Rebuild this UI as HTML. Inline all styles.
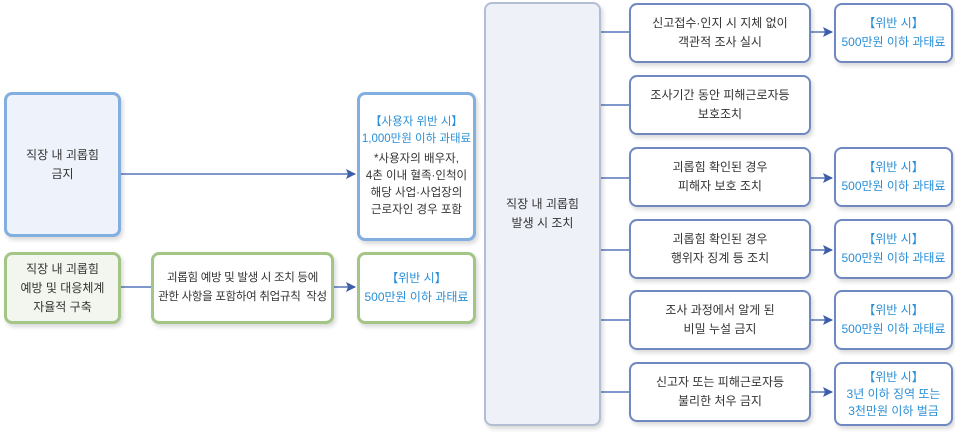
<!DOCTYPE html>
<html><head><meta charset="utf-8"><style>
body{margin:0;width:955px;height:432px;background:#fff;font-family:"Liberation Sans","Noto Sans CJK KR",sans-serif;position:relative;overflow:hidden}
.b{position:absolute;box-sizing:border-box;border-radius:8px;display:flex;align-items:center;justify-content:center;text-align:center;font-size:12px;line-height:19px;color:#333;background:#fff;box-shadow:2px 3px 4px rgba(0,0,0,.15);white-space:nowrap}
.bl{border:3px solid #82aee0}
.gr{border:3px solid #a3c686}
.nv{border:2.5px solid #6f88c2}
.c{color:#2a8fd6;font-weight:bold}
</style></head><body>
<svg width="955" height="432" style="position:absolute;left:0;top:0">
<defs><marker id="a" markerWidth="10" markerHeight="10" refX="9" refY="5" orient="auto" markerUnits="userSpaceOnUse"><path d="M0,0 L10,5 L0,10 L2,5z" fill="#3f5ea8"/></marker></defs>
<g stroke="#5575b8" stroke-width="1.5" fill="none">
<line x1="120" y1="174" x2="355" y2="174" marker-end="url(#a)"/>
<line x1="120" y1="287" x2="152" y2="287"/>
<line x1="333" y1="287" x2="355" y2="287" marker-end="url(#a)"/>
<line x1="600" y1="32" x2="630" y2="32"/>
<line x1="600" y1="105" x2="630" y2="105"/>
<line x1="600" y1="178" x2="630" y2="178"/>
<line x1="600" y1="250" x2="630" y2="250"/>
<line x1="600" y1="320" x2="630" y2="320"/>
<line x1="600" y1="392" x2="630" y2="392"/>
<line x1="810" y1="32" x2="832" y2="32" marker-end="url(#a)"/>
<line x1="810" y1="178" x2="832" y2="178" marker-end="url(#a)"/>
<line x1="810" y1="250" x2="832" y2="250" marker-end="url(#a)"/>
<line x1="810" y1="320" x2="832" y2="320" marker-end="url(#a)"/>
<line x1="810" y1="392" x2="832" y2="392" marker-end="url(#a)"/>
</g></svg>
<div class="b bl" style="left:4px;top:92px;width:117px;height:145px;background:#eef2fa">직장 내 괴롭힘<br>금지</div>
<div class="b gr" style="left:4px;top:252px;width:117px;height:72px;background:#f2f6ee">직장 내 괴롭힘<br>예방 및 대응체계<br>자율적 구축</div>
<div class="b gr" style="left:151px;top:252px;width:183px;height:72px;font-size:11.5px;letter-spacing:-0.3px">괴롭힘 예방 및 발생 시 조치 등에<br>관한 사항을 포함하여 취업규칙&nbsp; 작성</div>
<div class="b bl" style="left:357px;top:92px;width:119px;height:149px;flex-direction:column;font-size:11.5px;line-height:17px"><span class="c" style="font-weight:normal">【사용자 위반 시】<br>1,000만원 이하 과태료</span><span style="margin-top:3px">*사용자의 배우자,<br>4촌 이내 혈족·인척이<br>해당 사업·사업장의<br>근로자인 경우 포함</span></div>
<div class="b gr" style="left:357px;top:252px;width:119px;height:72px"><span class="c" style="font-weight:normal">【위반 시】<br>500만원 이하 과태료</span></div>
<div class="b" style="left:484px;top:2px;width:117px;height:424px;border:2.5px solid #b3bdd4;background:#eef1f8">직장 내 괴롭힘<br>발생 시 조치</div>
<div class="b nv" style="left:629px;top:3px;width:182px;height:60px">신고접수·인지 시 지체 없이<br>객관적 조사 실시</div>
<div class="b nv" style="left:629px;top:75px;width:182px;height:60px">조사기간 동안 피해근로자등<br>보호조치</div>
<div class="b nv" style="left:629px;top:147px;width:182px;height:60px">괴롭힘 확인된 경우<br>피해자 보호 조치</div>
<div class="b nv" style="left:629px;top:219px;width:182px;height:60px">괴롭힘 확인된 경우<br>행위자 징계 등 조치</div>
<div class="b nv" style="left:629px;top:290px;width:182px;height:60px">조사 과정에서 알게 된<br>비밀 누설 금지</div>
<div class="b nv" style="left:629px;top:362px;width:182px;height:60px">신고자 또는 피해근로자등<br>불리한 처우 금지</div>
<div class="b nv" style="left:834px;top:3px;width:119px;height:60px"><span class="c" style="font-weight:normal">【위반 시】<br>500만원 이하 과태료</span></div>
<div class="b nv" style="left:834px;top:147px;width:119px;height:60px"><span class="c" style="font-weight:normal">【위반 시】<br>500만원 이하 과태료</span></div>
<div class="b nv" style="left:834px;top:219px;width:119px;height:60px"><span class="c" style="font-weight:normal">【위반 시】<br>500만원 이하 과태료</span></div>
<div class="b nv" style="left:834px;top:290px;width:119px;height:60px"><span class="c" style="font-weight:normal">【위반 시】<br>500만원 이하 과태료</span></div>
<div class="b nv" style="left:834px;top:362px;width:119px;height:64px;line-height:17px"><span class="c" style="font-weight:normal">【위반 시】<br>3년 이하 징역 또는<br>3천만원 이하 벌금</span></div>
</body></html>
